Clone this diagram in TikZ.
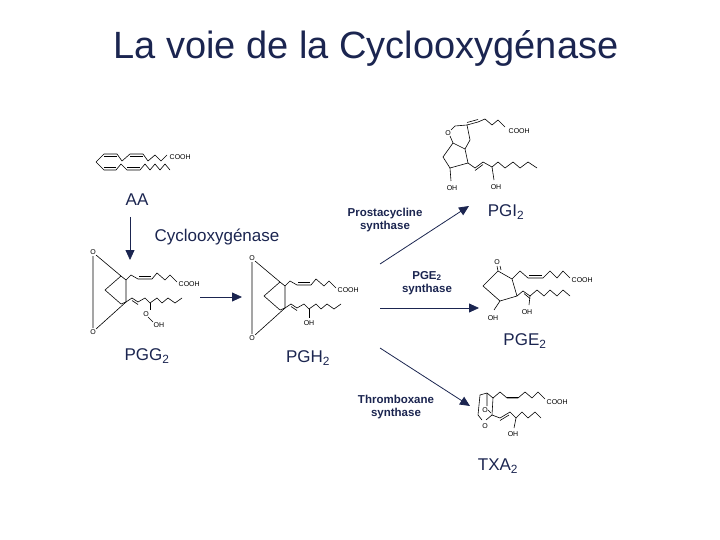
\documentclass[tikz,border=0pt]{standalone}
\usepackage{fontspec}
\setmainfont{Liberation Sans}
\usetikzlibrary{arrows.meta}
\definecolor{navy}{HTML}{1B2550}
\begin{document}
\begin{tikzpicture}[x=1pt,y=-1pt,
  bond/.style={line width=0.6pt,black},
  dbl/.style={line width=1.6pt,black},
  chem/.style={font=\fontsize{7}{8}\selectfont,inner sep=0.5pt,black},
  lab/.style={font=\fontsize{11.5}{13.5}\selectfont\bfseries,text=navy,align=center},
  big/.style={font=\fontsize{17}{19}\selectfont,text=navy},
  arr/.style={line width=0.8pt,navy,-{Triangle[length=10pt,width=9pt]}}]
\useasboundingbox (0,0) rectangle (720,540);
\node[font=\fontsize{38}{42}\selectfont,text=navy] (title) at (366,48) {La voie de la Cyclooxygénase};
% AA
\draw[bond] (96,162)--(104,154)--(117,154)--(122,161)--(130,154)--(143,154)--(148,161)--(155,155)--(161,161)--(167,155);
\draw[bond] (104,156.5)--(117,156.5) (130,156.5)--(143,156.5);
\draw[bond] (96,162)--(104,170)--(116,170)--(121,164)--(127,170)--(140,170)--(145,164)--(150,170)--(155,164)--(160,170)--(165,164)--(170,170);
\draw[bond] (104,167.5)--(116,167.5) (127,167.5)--(140,167.5);
\node[chem,anchor=west] (aacooh) at (169,157) {COOH};
% PG core (PGG2 and PGH2)
\foreach \ox/\oy/\gg in {93/252/1,252/258/0}{
\begin{scope}[shift={(\ox,\oy)}]
\node[chem] at (0,0) {O};
\node[chem] at (0,80) {O};
\draw[bond] (0,4)--(0,76) (3,3)--(28,24) (3,77)--(33,50);
\draw[bond] (28,24)--(12,38)--(28,52) (28,24)--(33,28)--(33,50)--(28,52);
\draw[bond] (33,28)--(38,23)--(45,27)--(59,27)--(64,21)--(72,28)--(77,23)--(84,30);
\draw[bond] (46,24.5)--(58,24.5);
\node[chem,anchor=west] at (85,32) {COOH};
\draw[bond] (33,50)--(39,46)--(45,50)--(52,46)--(57,51)--(64,46)--(69,51)--(75,46)--(82,51)--(89,46);
\draw[bond] (39,48.5)--(45,52.5);
\ifnum\gg=1
 \draw[bond] (57,51)--(57,58);
 \node[chem] at (53,62) {O};
 \draw[bond] (55,65)--(60,70);
 \node[chem,anchor=west] at (60,73) {OH};
\else
 \draw[bond] (57,51)--(57,60);
 \node[chem] at (57,65) {OH};
\fi
\end{scope}}
% PGE2
\node[chem] at (497,262) {O};
\draw[bond] (497,266)--(498,271)--(512,279)--(517,296)--(500,301)--(483,286)--(498,271);
\draw[bond] (500,266)--(501,270);
\draw[bond] (512,279)--(520,271)--(528,278)--(543,278)--(550,271)--(557,278)--(563,271)--(570,278);
\draw[bond] (529,275.5)--(542,275.5);
\node[chem,anchor=west] at (571,280) {COOH};
\draw[bond] (500,301)--(494,310);
\node[chem] at (493,318) {OH};
\draw[bond] (517,296)--(523,291)--(530,296)--(537,290)--(544,296)--(550,290)--(557,296)--(563,290)--(570,296);
\draw[bond] (524,293.5)--(530,298.5);
\draw[bond] (530,296)--(529,305);
\node[chem] at (527,312) {OH};
% PGI2
\node[chem] at (448,133) {O};
\draw[bond] (451,130)--(455,126)--(467,125)--(470,140)--(465,149)--(453,143)--(450,136);
\draw[bond] (453,143)--(443,157)--(450,168)--(468,163)--(465,149);
\draw[bond] (467,125)--(478,122)--(485,119)--(492,125)--(498,120)--(505,127);
\draw[bond] (467,122.5)--(478,119.5);
\node[chem,anchor=west] at (508,131) {COOH};
\draw[bond] (450,168)--(451,181);
\node[chem] at (452,188) {OH};
\draw[bond] (468,163)--(475,168)--(483,162)--(492,167)--(498,162)--(505,168)--(513,162)--(520,168)--(528,162)--(537,168);
\draw[bond] (475,170.5)--(483,164.5);
\draw[bond] (492,167)--(494,180);
\node[chem] at (496,187) {OH};
% TXA2
\draw[bond] (480,395)--(487,393)--(493,398)--(492,415)--(486,420) (480,395)--(478,415)--(482,420);
\node[chem] at (485,410) {O};
\node[chem] at (485,426) {O};
\draw[bond] (487,393)--(487,406) (491,413)--(488,410);
\draw[bond] (493,398)--(500,392)--(507,398)--(518,398)--(525,392)--(532,398)--(538,392)--(545,399);
\draw[dbl] (507,397.6)--(518,397.6);
\node[chem,anchor=west] at (546,402) {COOH};
\draw[bond] (492,415)--(500,418)--(510,412)--(516,418)--(522,412)--(528,418)--(535,412)--(541,418);
\draw[bond] (500,420.5)--(509,415);
\draw[bond] (516,418)--(514,428);
\node[chem] at (513,434) {OH};
% labels
\node[big] (aa) at (137,200) {AA};
\node[big] (cox) at (217,237) {Cyclooxygénase};
\node[big] (pgg) at (147,356) {PGG\textsubscript{2}};
\node[big] (pgh) at (308,358) {PGH\textsubscript{2}};
\node[lab] (ps) at (385,220) {Prostacycline\\synthase};
\node[big] (pgi) at (506,212) {PGI\textsubscript{2}};
\node[lab] (pges) at (427,283) {PGE\textsubscript{2}\\synthase};
\node[big] (pge) at (525,341) {PGE\textsubscript{2}};
\node[lab] (ts) at (396,407) {Thromboxane\\synthase};
\node[big] (txa) at (498,466) {TXA\textsubscript{2}};
% arrows
\coordinate (a1) at (130,217); \coordinate (a2) at (130,260);
\coordinate (b1) at (200,297); \coordinate (b2) at (242,297);
\coordinate (c1) at (380,308); \coordinate (c2) at (479,308);
\coordinate (d1) at (380,264); \coordinate (d2) at (469,206);
\coordinate (e1) at (380,348); \coordinate (e2) at (470,406);
\draw[arr] (a1)--(a2);
\draw[arr] (b1)--(b2);
\draw[arr] (c1)--(c2);
\draw[arr] (d1)--(d2);
\draw[arr] (e1)--(e2);
\end{tikzpicture}
\end{document}
